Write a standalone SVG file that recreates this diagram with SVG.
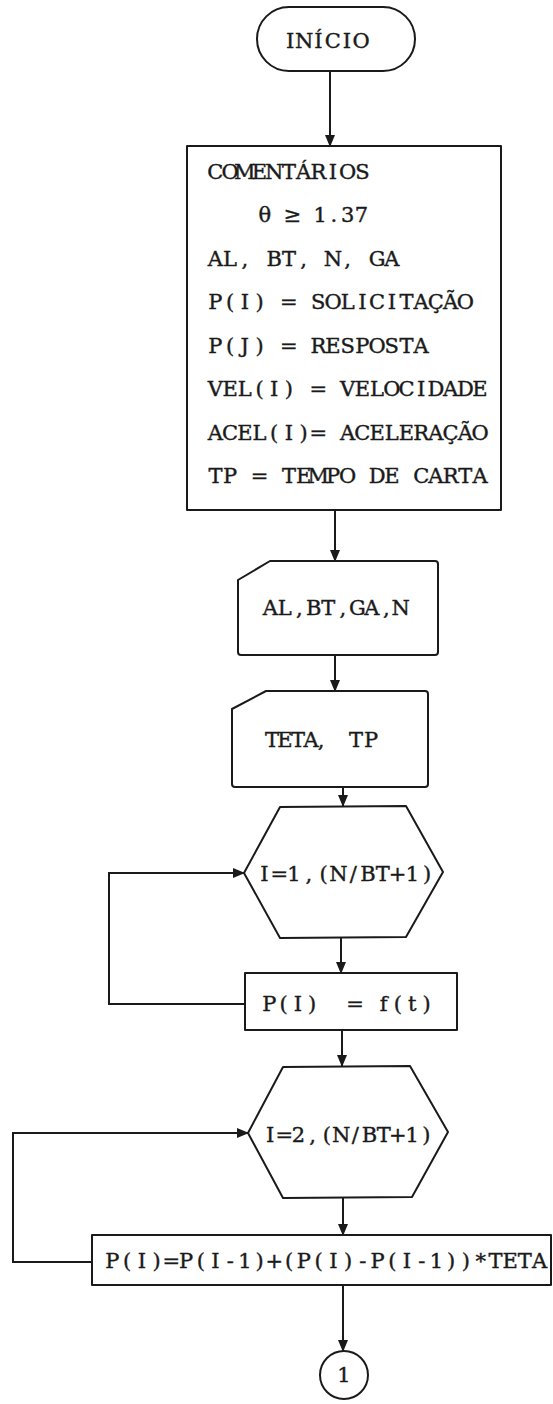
<svg xmlns="http://www.w3.org/2000/svg" width="553" height="1404" viewBox="0 0 553 1404">
<style>
.s{fill:#fff;stroke:#1a1a1a;stroke-width:2;stroke-linejoin:round}
.c{fill:none;stroke:#1a1a1a;stroke-width:2}
.t{font-family:"DejaVu Serif","Liberation Serif",serif;font-size:21px;fill:#1a1a1a;stroke:#1a1a1a;stroke-width:0.4;text-anchor:middle}
</style>
<defs>
<marker id="ah" markerUnits="userSpaceOnUse" markerWidth="12" markerHeight="10" refX="11" refY="5" orient="auto">
<path d="M0,0 L12,5 L0,10 Z" fill="#1a1a1a"/>
</marker>
</defs>
<rect width="553" height="1404" fill="#fff"/>
<g id="connectors">
<path class="c" d="M330,71 V146" marker-end="url(#ah)"/>
<path class="c" d="M335,510 V561" marker-end="url(#ah)"/>
<path class="c" d="M335,655 V691" marker-end="url(#ah)"/>
<path class="c" d="M343,787 V806" marker-end="url(#ah)"/>
<path class="c" d="M341,938 V973" marker-end="url(#ah)"/>
<path class="c" d="M342,1030 V1066" marker-end="url(#ah)"/>
<path class="c" d="M343,1198 V1235" marker-end="url(#ah)"/>
<path class="c" d="M343,1285 V1351" marker-end="url(#ah)"/>
<path class="c" d="M245,1004 H109 V873 H244" marker-end="url(#ah)"/>
<path class="c" d="M92,1262 H13 V1133 H248" marker-end="url(#ah)"/>
</g>
<g id="inicio">
<rect class="s" x="257" y="7" width="158" height="64" rx="32"/>
<text class="t" x="290.1 304.3 318.5 332.7 346.9 361.1" y="48">INÍCIO</text>
</g>
<g id="comentarios">
<rect class="s" x="187" y="146" width="314" height="364"/>
<text class="t" x="215.4 230.1 244.8 259.5 274.2 288.9 303.6 318.3 333 347.7 362.4" y="179">COMENTÁRIOS</text>
<text class="t" x="264.9 278.7 292.5 306.3 320.1 333.9 347.7 361.5" y="222">θ ≥ 1.37</text>
<text class="t" x="215.4 230.1 244.8 259.5 274.2 288.9 303.6 318.3 333 347.7 362.4 377.1 391.8" y="266">AL, BT, N, GA</text>
<text class="t" x="215.4 230.1 244.8 259.5 274.2 288.9 303.6 318.3 333 347.7 362.4 377.1 391.8 406.5 421.2 435.9 450.6 465.3" y="309">P(I) = SOLICITAÇÃO</text>
<text class="t" x="215.4 230.1 244.8 259.5 274.2 288.9 303.6 318.3 333 347.7 362.4 377.1 391.8 406.5 421.2" y="353">P(J) = RESPOSTA</text>
<text class="t" x="215.4 230.1 244.8 259.5 274.2 288.9 303.6 318.3 333 347.7 362.4 377.1 391.8 406.5 421.2 435.9 450.6 465.3 480" y="396">VEL(I) = VELOCIDADE</text>
<text class="t" x="215.4 230.1 244.8 259.5 274.2 288.9 303.6 318.3 333 347.7 362.4 377.1 391.8 406.5 421.2 435.9 450.6 465.3 480" y="440">ACEL(I)= ACELERAÇÃO</text>
<text class="t" x="215.4 230.1 244.8 259.5 274.2 288.9 303.6 318.3 333 347.7 362.4 377.1 391.8 406.5 421.2 435.9 450.6 465.3 480" y="483">TP = TEMPO DE CARTA</text>
</g>
<g id="card1">
<path class="s" d="M238,580 L270,561 H435 Q438,561 438,564 V652 Q438,655 435,655 H241 Q238,655 238,652 Z"/>
<text class="t" x="270.3 284.8 299.3 313.8 328.3 342.8 357.3 371.8 386.3 400.8" y="615">AL,BT,GA,N</text>
</g>
<g id="card2">
<path class="s" d="M232,709 L266,691 H425 Q428,691 428,694 V784 Q428,787 425,787 H235 Q232,787 232,784 Z"/>
<text class="t" x="272 285 298 311 321 335 356 371" y="747">TETA, TP</text>
</g>
<g id="loop1">
<polygon class="s" points="280,807 406,806 443,872 406,937 280,938 244,873"/>
<text class="t" x="264.4 279.2 294 308.8 323.6 338.4 353.2 368 382.8 397.6 412.4 427.2" y="881">I=1,(N/BT+1)</text>
</g>
<g id="calcP">
<rect class="s" x="245" y="973" width="212" height="57"/>
<text class="t" x="269.2 283.5 297.8 312.1 326.4 340.7 355 369.3 383.6 397.9 412.2 426.5" y="1011" xml:space="preserve">P(I)  = f(t)</text>
</g>
<g id="loop2">
<polygon class="s" points="283,1067 410,1066 448,1132 412,1197 283,1198 248,1133"/>
<text class="t" x="270.1 284.3 298.5 312.7 326.9 341.1 355.3 369.5 383.7 397.9 412.1 426.3" y="1142">I=2,(N/BT+1)</text>
</g>
<g id="filtro">
<rect class="s" x="92" y="1235" width="459" height="50"/>
<text class="t" x="112.4 127.1 141.8 156.6 171.3 186 200.8 215.5 230.2 245 259.7 274.4 289.2 303.9 318.6 333.4 348.1 362.8 377.5 392.3 407 421.7 436.5 451.2 465.9 480.7 495.4 510.1 524.8 539.6" y="1268">P(I)=P(I-1)+(P(I)-P(I-1))*TETA</text>
</g>
<g id="conector1">
<circle class="s" cx="344" cy="1375" r="24"/>
<text class="t" x="344" y="1382">1</text>
</g>
</svg>
